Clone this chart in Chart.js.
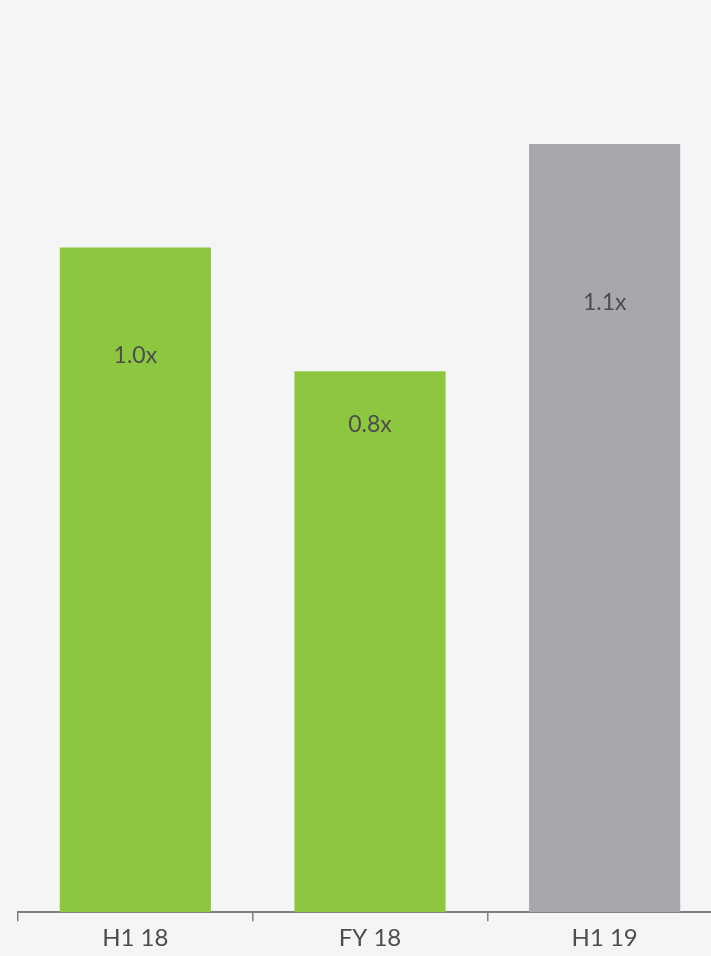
<!DOCTYPE html>
<html lang="en">
<head>
  <meta charset="UTF-8">
  <title>Multiple</title>
  <script src="https://cdn.jsdelivr.net/npm/chart.js"></script>
  <style>
    html, body {
      margin: 0;
      padding: 0;
      background: #f5f5f5;
      overflow: hidden;
    }

    #wrap {
      width: 722px;
      height: 956px;
    }
  </style>
</head>
<body>
  <div id="wrap">
    <canvas id="multChart" width="722" height="956"></canvas>
  </div>

  <script>
    const periods = ['H1 18', 'FY 18', 'H1 19'];
    const multiples = [1.0, 0.814, 1.156];
    const multLabels = ['1.0x', '0.8x', '1.1x'];
    const barColors = ['#8dc63f', '#8dc63f', '#a7a8ab'];

    // labels sit at different depths inside each bar
    const labelOffsets = [108, 53, 159];

    const barLabels = {
      id: 'barLabels',
      afterDatasetsDraw(chart) {
        const ctx = chart.ctx;
        const meta = chart.getDatasetMeta(0);
        ctx.save();
        ctx.font = '23px Lato, "Open Sans", sans-serif';
        ctx.fillStyle = '#4d4d4f';
        ctx.textAlign = 'center';
        ctx.textBaseline = 'middle';
        meta.data.forEach((bar, i) => {
          ctx.fillText(multLabels[i], bar.x, bar.y + labelOffsets[i]);
        });
        ctx.restore();
      }
    };

    new Chart(document.getElementById('multChart'), {
      type: 'bar',
      data: {
        labels: periods,
        datasets: [{
          data: multiples,
          backgroundColor: barColors,
          borderWidth: 0,
          barPercentage: 0.644,
          categoryPercentage: 1.0
        }]
      },
      options: {
        responsive: false,
        animation: false,
        layout: {
          padding: { left: 18, right: 0, top: 15, bottom: 0 }
        },
        plugins: {
          legend: { display: false },
          tooltip: { enabled: false }
        },
        scales: {
          y: {
            display: false,
            min: 0,
            max: 1.35
          },
          x: {
            border: { display: true, color: '#7f7f7f', width: 2 },
            grid: {
              drawOnChartArea: false,
              drawTicks: true,
              tickLength: 9,
              color: '#7f7f7f',
              lineWidth: 1.5
            },
            ticks: {
              color: '#4d4d4f',
              padding: 3,
              font: { family: 'Lato, "Open Sans", sans-serif', size: 24 }
            }
          }
        }
      },
      plugins: [barLabels]
    });
  </script>
</body>
</html>
